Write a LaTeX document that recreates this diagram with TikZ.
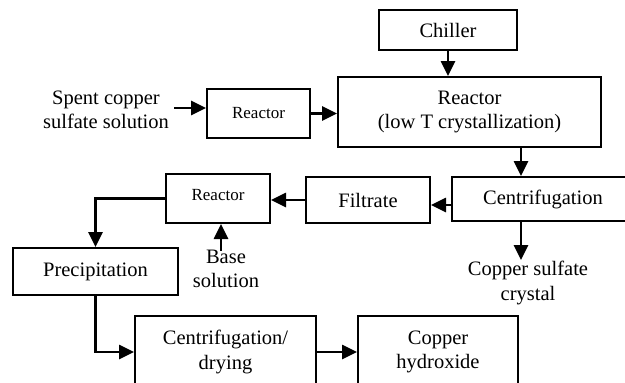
\documentclass[tikz,border=0pt]{standalone}
\usepackage{fontspec}
\setmainfont{Liberation Serif}
\usetikzlibrary{arrows.meta}
\begin{document}
\begin{tikzpicture}[x=1pt,y=-1pt,
  box/.style={draw,line width=2pt,inner sep=0pt,align=center,font=\fontsize{20.5}{24.5}\selectfont},
  smallbox/.style={box,font=\fontsize{17}{20}\selectfont},
  lbl/.style={inner sep=1pt,align=center,font=\fontsize{20.5}{24.5}\selectfont},
  arr/.style={line width=2.6pt,-{Triangle[length=15pt,width=14pt]}}]
\useasboundingbox (0,0) rectangle (625,383);
\clip (0,0) rectangle (625,383);
\fill[white] (0,0) rectangle (625,383);
% boxes
\node[box,minimum width=138pt,minimum height=40pt] (chiller) at (448,30) {Chiller};
\node[box,minimum width=263pt,minimum height=70pt] (bigr) at (469.5,112) {Reactor\\(low T crystallization)};
\node[smallbox,minimum width=103pt,minimum height=49pt] (r1) at (258.5,113.5) {Reactor};
\node[box,minimum width=182pt,minimum height=44pt] (cent) at (543,199) {Centrifugation};
\node[box,minimum width=124pt,minimum height=46pt] (filt) at (368,200) {Filtrate};
\node[smallbox,minimum width=104pt,minimum height=49pt,text depth=8pt] (r2) at (218,198.5) {Reactor};
\node[box,minimum width=165pt,minimum height=47pt] (precip) at (95.5,271.5) {Precipitation};
\node[box,minimum width=181pt,minimum height=72pt] (cd) at (225.5,352) {Centrifugation/\\drying};
\node[box,minimum width=160pt,minimum height=72pt] (ch) at (438,352) {Copper\\hydroxide};
% labels
\node[lbl] (spent) at (106,110) {Spent copper\\sulfate solution};
\node[lbl] (base) at (226,269) {Base\\solution};
\node[lbl] (crystal) at (528,283) {Copper sulfate\\crystal};
% connectors
\draw[arr] ([xshift=4pt,yshift=2pt]spent.east) -- ([yshift=2pt]spent.east -| r1.west);
\draw[arr] (r1.east) -- (r1.east -| bigr.west);
\draw[arr] (chiller.south) -- (chiller.south |- bigr.north);
\draw[arr] ([xshift=51.5pt]bigr.south) -- ([xshift=51.5pt]bigr.south |- cent.north);
\draw[arr] ([yshift=-6pt]cent.west) -- ([yshift=-6pt]cent.west -| filt.east);
\draw[arr] (filt.west) -- (filt.west -| r2.east);
\draw[arr] (r2.west) -- (precip.north |- r2.west) -- (precip.north);
\draw[arr] ([xshift=-5pt,yshift=-2pt]base.north) -- ([xshift=-5pt]base.north |- r2.south);
\draw[arr] ([xshift=-22pt]cent.south) -- ([xshift=-22pt]cent.south |- crystal.north);
\draw[arr] (precip.south) -- (precip.south |- cd.west) -- (cd.west);
\draw[arr] (cd.east) -- (ch.west);
\end{tikzpicture}
\end{document}
